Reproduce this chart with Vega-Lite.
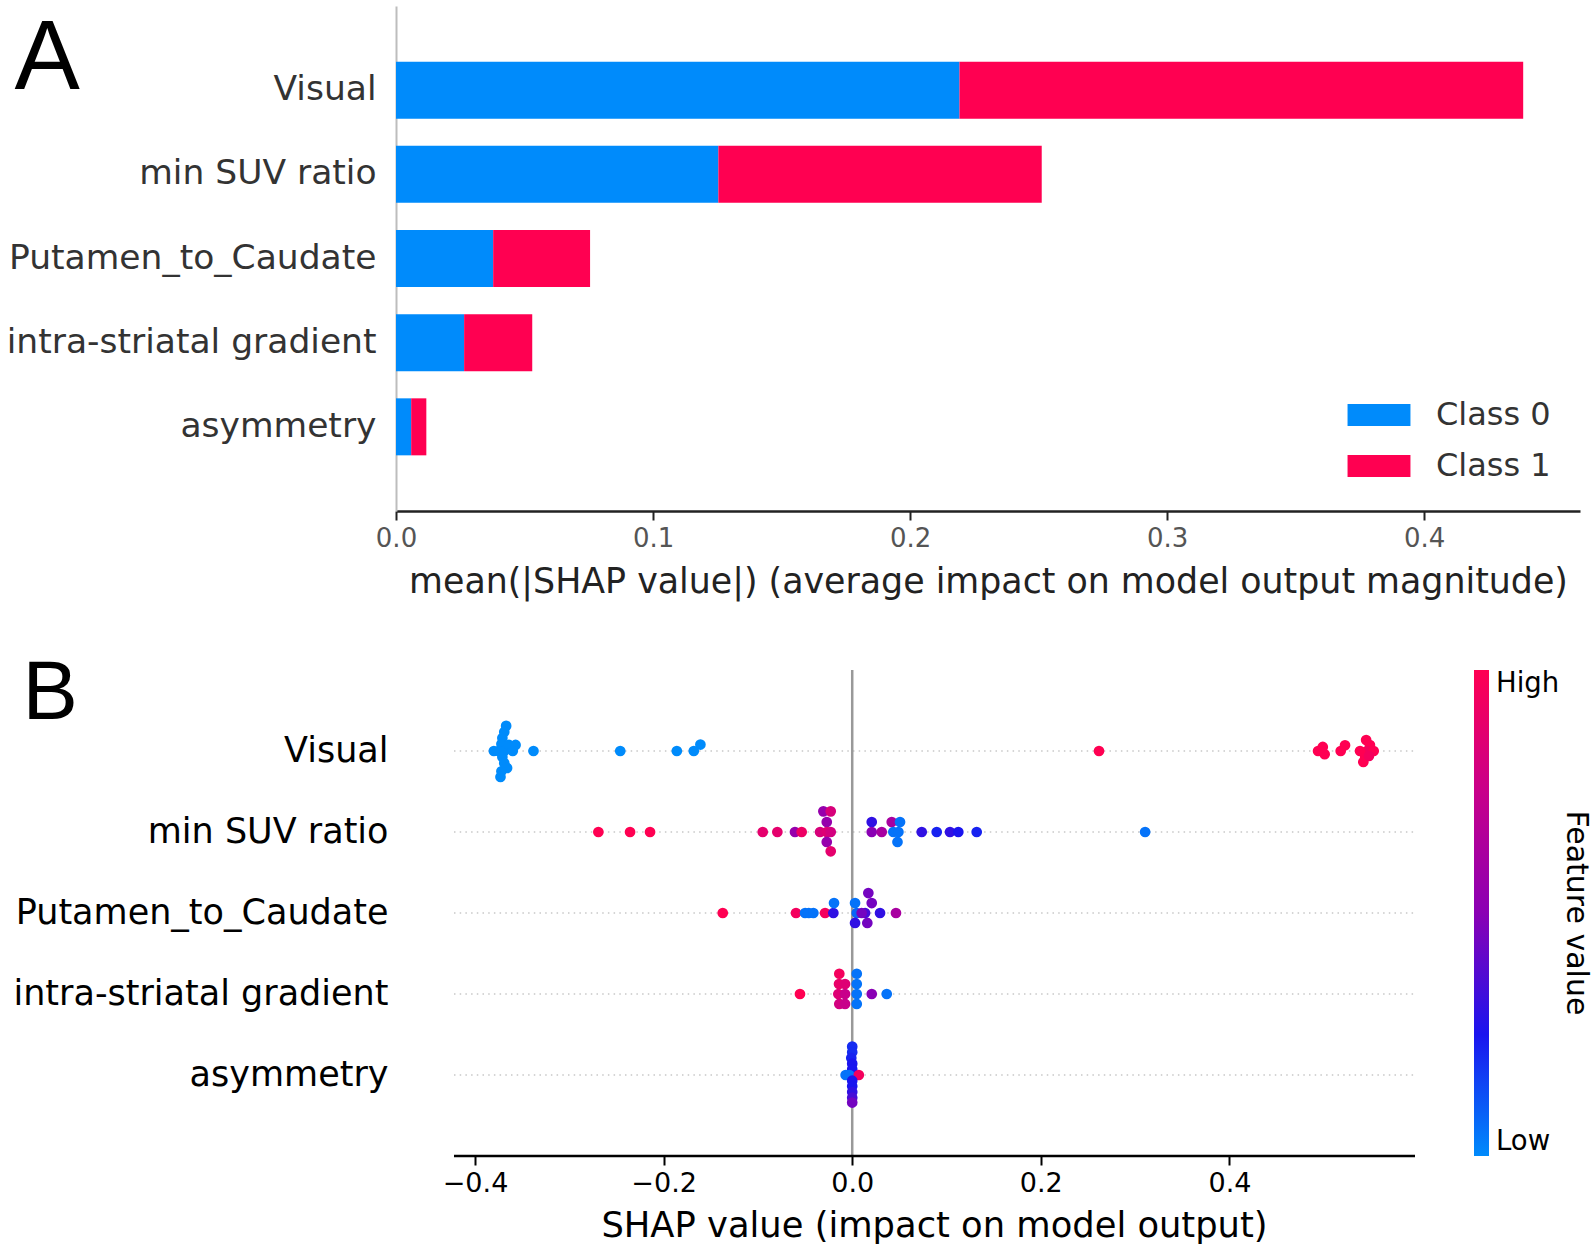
{
  "$schema": "https://vega.github.io/schema/vega-lite/v6.json",
  "background": "white",
  "padding": {"left": 6, "top": 6, "right": 0, "bottom": 0},
  "config": {"view": {"stroke": null}, "font": "DejaVu Sans", "legend": {"titleAngle": 270}},
  "datasets": {
    "bars": [
      {"feature": "Visual", "class": "Class 0", "ord": 0, "value": 0.2192},
      {"feature": "Visual", "class": "Class 1", "ord": 1, "value": 0.2193},
      {"feature": "min SUV ratio", "class": "Class 0", "ord": 0, "value": 0.1254},
      {"feature": "min SUV ratio", "class": "Class 1", "ord": 1, "value": 0.1258},
      {"feature": "Putamen_to_Caudate", "class": "Class 0", "ord": 0, "value": 0.0378},
      {"feature": "Putamen_to_Caudate", "class": "Class 1", "ord": 1, "value": 0.0377},
      {"feature": "intra-striatal gradient", "class": "Class 0", "ord": 0, "value": 0.0265},
      {"feature": "intra-striatal gradient", "class": "Class 1", "ord": 1, "value": 0.0265},
      {"feature": "asymmetry", "class": "Class 0", "ord": 0, "value": 0.0059},
      {"feature": "asymmetry", "class": "Class 1", "ord": 1, "value": 0.0059}
    ],
    "features": [
      {"feature": "Visual"}, {"feature": "min SUV ratio"}, {"feature": "Putamen_to_Caudate"},
      {"feature": "intra-striatal gradient"}, {"feature": "asymmetry"}
    ],
    "points": [
      {"feature": "Visual", "shap": -0.367, "jitter": -0.31, "fv": 0},
      {"feature": "Visual", "shap": -0.369, "jitter": -0.235, "fv": 0},
      {"feature": "Visual", "shap": -0.371, "jitter": -0.16, "fv": 0},
      {"feature": "Visual", "shap": -0.372, "jitter": -0.085, "fv": 0},
      {"feature": "Visual", "shap": -0.380, "jitter": 0, "fv": 0},
      {"feature": "Visual", "shap": -0.375, "jitter": 0, "fv": 0},
      {"feature": "Visual", "shap": -0.369, "jitter": 0, "fv": 0},
      {"feature": "Visual", "shap": -0.364, "jitter": -0.075, "fv": 0},
      {"feature": "Visual", "shap": -0.357, "jitter": -0.075, "fv": 0},
      {"feature": "Visual", "shap": -0.360, "jitter": 0, "fv": 0},
      {"feature": "Visual", "shap": -0.371, "jitter": 0.075, "fv": 0},
      {"feature": "Visual", "shap": -0.369, "jitter": 0.15, "fv": 0},
      {"feature": "Visual", "shap": -0.366, "jitter": 0.21, "fv": 0},
      {"feature": "Visual", "shap": -0.372, "jitter": 0.25, "fv": 0},
      {"feature": "Visual", "shap": -0.373, "jitter": 0.32, "fv": 0},
      {"feature": "Visual", "shap": -0.338, "jitter": 0, "fv": 0},
      {"feature": "Visual", "shap": -0.246, "jitter": 0, "fv": 0},
      {"feature": "Visual", "shap": -0.186, "jitter": 0, "fv": 0},
      {"feature": "Visual", "shap": -0.168, "jitter": 0, "fv": 0},
      {"feature": "Visual", "shap": -0.161, "jitter": -0.08, "fv": 0},
      {"feature": "Visual", "shap": 0.2617, "jitter": 0, "fv": 1},
      {"feature": "Visual", "shap": 0.494, "jitter": 0, "fv": 1},
      {"feature": "Visual", "shap": 0.499, "jitter": -0.05, "fv": 1},
      {"feature": "Visual", "shap": 0.501, "jitter": 0.04, "fv": 1},
      {"feature": "Visual", "shap": 0.5226, "jitter": -0.07, "fv": 1},
      {"feature": "Visual", "shap": 0.518, "jitter": 0, "fv": 1},
      {"feature": "Visual", "shap": 0.545, "jitter": -0.135, "fv": 1},
      {"feature": "Visual", "shap": 0.549, "jitter": -0.074, "fv": 1},
      {"feature": "Visual", "shap": 0.546, "jitter": 0, "fv": 0.95},
      {"feature": "Visual", "shap": 0.5385, "jitter": 0, "fv": 1},
      {"feature": "Visual", "shap": 0.553, "jitter": 0, "fv": 1},
      {"feature": "Visual", "shap": 0.544, "jitter": 0.074, "fv": 1},
      {"feature": "Visual", "shap": 0.542, "jitter": 0.135, "fv": 1},
      {"feature": "Visual", "shap": 0.548, "jitter": 0.06, "fv": 0.95},

      {"feature": "min SUV ratio", "shap": -0.2692, "jitter": 0, "fv": 1},
      {"feature": "min SUV ratio", "shap": -0.2356, "jitter": 0, "fv": 1},
      {"feature": "min SUV ratio", "shap": -0.2144, "jitter": 0, "fv": 1},
      {"feature": "min SUV ratio", "shap": -0.0949, "jitter": 0, "fv": 0.88},
      {"feature": "min SUV ratio", "shap": -0.0794, "jitter": 0, "fv": 0.88},
      {"feature": "min SUV ratio", "shap": -0.0607, "jitter": 0, "fv": 0.55},
      {"feature": "min SUV ratio", "shap": -0.0536, "jitter": 0, "fv": 0.92},
      {"feature": "min SUV ratio", "shap": -0.0306, "jitter": -0.255, "fv": 0.55},
      {"feature": "min SUV ratio", "shap": -0.0228, "jitter": -0.255, "fv": 0.82},
      {"feature": "min SUV ratio", "shap": -0.027, "jitter": -0.123, "fv": 0.55},
      {"feature": "min SUV ratio", "shap": -0.0341, "jitter": 0, "fv": 0.82},
      {"feature": "min SUV ratio", "shap": -0.027, "jitter": 0, "fv": 0.85},
      {"feature": "min SUV ratio", "shap": -0.0228, "jitter": 0, "fv": 0.8},
      {"feature": "min SUV ratio", "shap": -0.027, "jitter": 0.123, "fv": 0.55},
      {"feature": "min SUV ratio", "shap": -0.0228, "jitter": 0.238, "fv": 0.88},
      {"feature": "min SUV ratio", "shap": 0.0207, "jitter": -0.123, "fv": 0.3},
      {"feature": "min SUV ratio", "shap": 0.0207, "jitter": 0, "fv": 0.5},
      {"feature": "min SUV ratio", "shap": 0.0313, "jitter": 0, "fv": 0.62},
      {"feature": "min SUV ratio", "shap": 0.0419, "jitter": -0.123, "fv": 0.62},
      {"feature": "min SUV ratio", "shap": 0.0436, "jitter": 0, "fv": 0.05},
      {"feature": "min SUV ratio", "shap": 0.0507, "jitter": -0.123, "fv": 0.05},
      {"feature": "min SUV ratio", "shap": 0.0490, "jitter": 0, "fv": 0.05},
      {"feature": "min SUV ratio", "shap": 0.0480, "jitter": 0.123, "fv": 0.05},
      {"feature": "min SUV ratio", "shap": 0.0737, "jitter": 0, "fv": 0.3},
      {"feature": "min SUV ratio", "shap": 0.0896, "jitter": 0, "fv": 0.22},
      {"feature": "min SUV ratio", "shap": 0.1037, "jitter": 0, "fv": 0.3},
      {"feature": "min SUV ratio", "shap": 0.1125, "jitter": 0, "fv": 0.25},
      {"feature": "min SUV ratio", "shap": 0.132, "jitter": 0, "fv": 0.22},
      {"feature": "min SUV ratio", "shap": 0.3106, "jitter": 0, "fv": 0.05},

      {"feature": "Putamen_to_Caudate", "shap": -0.1373, "jitter": 0, "fv": 1},
      {"feature": "Putamen_to_Caudate", "shap": -0.0596, "jitter": 0, "fv": 0.95},
      {"feature": "Putamen_to_Caudate", "shap": -0.0500, "jitter": 0, "fv": 0.05},
      {"feature": "Putamen_to_Caudate", "shap": -0.0460, "jitter": 0, "fv": 0.05},
      {"feature": "Putamen_to_Caudate", "shap": -0.0412, "jitter": 0, "fv": 0.05},
      {"feature": "Putamen_to_Caudate", "shap": -0.0288, "jitter": 0, "fv": 0.95},
      {"feature": "Putamen_to_Caudate", "shap": -0.0200, "jitter": 0, "fv": 0.3},
      {"feature": "Putamen_to_Caudate", "shap": -0.0193, "jitter": -0.123, "fv": 0.05},
      {"feature": "Putamen_to_Caudate", "shap": 0.0030, "jitter": -0.123, "fv": 0.05},
      {"feature": "Putamen_to_Caudate", "shap": 0.0048, "jitter": 0, "fv": 0.08},
      {"feature": "Putamen_to_Caudate", "shap": 0.0171, "jitter": -0.246, "fv": 0.45},
      {"feature": "Putamen_to_Caudate", "shap": 0.0136, "jitter": 0, "fv": 0.35},
      {"feature": "Putamen_to_Caudate", "shap": 0.0207, "jitter": -0.123, "fv": 0.45},
      {"feature": "Putamen_to_Caudate", "shap": 0.0100, "jitter": 0, "fv": 0.45},
      {"feature": "Putamen_to_Caudate", "shap": 0.0295, "jitter": 0, "fv": 0.3},
      {"feature": "Putamen_to_Caudate", "shap": 0.0030, "jitter": 0.123, "fv": 0.3},
      {"feature": "Putamen_to_Caudate", "shap": 0.0160, "jitter": 0.123, "fv": 0.45},
      {"feature": "Putamen_to_Caudate", "shap": 0.0464, "jitter": 0, "fv": 0.62},

      {"feature": "intra-striatal gradient", "shap": -0.0554, "jitter": 0, "fv": 1},
      {"feature": "intra-striatal gradient", "shap": -0.0137, "jitter": -0.25, "fv": 0.95},
      {"feature": "intra-striatal gradient", "shap": -0.0140, "jitter": -0.123, "fv": 0.9},
      {"feature": "intra-striatal gradient", "shap": -0.0076, "jitter": -0.123, "fv": 0.85},
      {"feature": "intra-striatal gradient", "shap": -0.0147, "jitter": 0, "fv": 0.85},
      {"feature": "intra-striatal gradient", "shap": -0.0076, "jitter": 0, "fv": 0.75},
      {"feature": "intra-striatal gradient", "shap": -0.0137, "jitter": 0.123, "fv": 0.8},
      {"feature": "intra-striatal gradient", "shap": -0.0076, "jitter": 0.123, "fv": 0.75},
      {"feature": "intra-striatal gradient", "shap": 0.0048, "jitter": -0.25, "fv": 0.05},
      {"feature": "intra-striatal gradient", "shap": 0.0048, "jitter": -0.123, "fv": 0.05},
      {"feature": "intra-striatal gradient", "shap": 0.0048, "jitter": 0, "fv": 0.05},
      {"feature": "intra-striatal gradient", "shap": 0.0048, "jitter": 0.123, "fv": 0.05},
      {"feature": "intra-striatal gradient", "shap": 0.0207, "jitter": 0, "fv": 0.5},
      {"feature": "intra-striatal gradient", "shap": 0.0366, "jitter": 0, "fv": 0.05},

      {"feature": "asymmetry", "shap": 0.0, "jitter": -0.35, "fv": 0.2},
      {"feature": "asymmetry", "shap": 0.0, "jitter": -0.28, "fv": 0.2},
      {"feature": "asymmetry", "shap": -0.001, "jitter": -0.21, "fv": 0.22},
      {"feature": "asymmetry", "shap": 0.0, "jitter": -0.14, "fv": 0.25},
      {"feature": "asymmetry", "shap": 0.0, "jitter": -0.07, "fv": 0.25},
      {"feature": "asymmetry", "shap": -0.007, "jitter": 0, "fv": 0.05},
      {"feature": "asymmetry", "shap": -0.003, "jitter": 0, "fv": 0.05},
      {"feature": "asymmetry", "shap": 0.007, "jitter": 0, "fv": 0.95},
      {"feature": "asymmetry", "shap": 0.0, "jitter": 0.07, "fv": 0.25},
      {"feature": "asymmetry", "shap": 0.0, "jitter": 0.14, "fv": 0.25},
      {"feature": "asymmetry", "shap": 0.0, "jitter": 0.21, "fv": 0.3},
      {"feature": "asymmetry", "shap": 0.0, "jitter": 0.28, "fv": 0.35},
      {"feature": "asymmetry", "shap": 0.0, "jitter": 0.34, "fv": 0.45}
    ]
  },
  "vconcat": [
    {
      "width": 1184,
      "height": 505,
      "data": {"name": "bars"},
      "mark": {"type": "bar", "size": 57},
      "encoding": {
        "y": {
          "field": "feature", "type": "nominal",
          "sort": ["Visual", "min SUV ratio", "Putamen_to_Caudate", "intra-striatal gradient", "asymmetry"],
          "scale": {"paddingInner": 0, "paddingOuter": 0.5},
          "axis": {
            "domain": true, "domainColor": "#bdbdbd", "domainWidth": 2,
            "ticks": false, "labelPadding": 20, "labelFontSize": 34.5, "labelColor": "#333",
            "labelFont": "DejaVu Sans", "labelLimit": 0,
            "title": "A", "titleFont": "Liberation Sans", "titleFontSize": 98, "titleFontWeight": "normal",
            "titleColor": "#000", "titleAngle": 0, "titleAlign": "left", "titleBaseline": "alphabetic",
            "titleX": -382, "titleY": 82
          }
        },
        "x": {
          "field": "value", "type": "quantitative", "stack": "zero",
          "scale": {"domain": [0, 0.4606], "nice": false, "zero": true},
          "axis": {
            "values": [0, 0.1, 0.2, 0.3, 0.4], "format": ".1f", "grid": false, "labelFlush": false,
            "domainColor": "#222", "domainWidth": 2.5, "tickColor": "#222", "tickWidth": 2, "tickSize": 9,
            "labelFontSize": 26, "labelColor": "#555", "labelPadding": 5, "labelFont": "DejaVu Sans",
            "title": "mean(|SHAP value|) (average impact on model output magnitude)",
            "titleFontSize": 34.8, "titleFontWeight": "normal", "titleColor": "#222", "titlePadding": 14,
            "titleFont": "DejaVu Sans", "titleLimit": 0
          }
        },
        "color": {
          "field": "class", "type": "nominal",
          "scale": {"domain": ["Class 0", "Class 1"], "range": ["#008bfb", "#ff0051"]},
          "legend": {
            "orient": "bottom-right", "offset": 29, "title": null, "padding": 0,
            "symbolType": "M-2.86,-1L2.86,-1L2.86,1L-2.86,1Z", "symbolSize": 484,
            "symbolStrokeWidth": 0, "symbolOpacity": 1,
            "labelFontSize": 32, "labelFont": "DejaVu Sans", "labelColor": "#333",
            "labelOffset": 41, "rowPadding": 19, "labelLimit": 0
          }
        },
        "order": {"field": "ord", "type": "quantitative"}
      }
    },
    {
      "width": 1019,
      "height": 486,
      "layer": [
        {
          "data": {"name": "features"},
          "mark": {"type": "rule", "color": "#c8c8c8", "strokeWidth": 1.5, "strokeDash": [1.5, 4.2]},
          "encoding": {
            "x": {"datum": -0.4223},
            "x2": {"datum": 0.5968},
            "y": {"field": "feature", "type": "nominal", "sort": ["Visual", "min SUV ratio", "Putamen_to_Caudate", "intra-striatal gradient", "asymmetry"]}
          }
        },
        {
          "data": {"values": [{"z": 0}]},
          "mark": {"type": "rule", "color": "#999999", "strokeWidth": 2.5},
          "encoding": {"x": {"field": "z", "type": "quantitative"}}
        },
        {
          "data": {"values": [{"lo": -0.4223, "hi": 0.5968}]},
          "mark": {"type": "rule", "color": "#000000", "strokeWidth": 2.5},
          "encoding": {
            "x": {"field": "lo", "type": "quantitative"},
            "x2": {"field": "hi"},
            "y": {"value": "height"}
          }
        },
        {
          "data": {"name": "points"},
          "mark": {"type": "circle", "size": 115, "opacity": 1},
          "encoding": {
            "y": {"field": "feature", "type": "nominal", "sort": ["Visual", "min SUV ratio", "Putamen_to_Caudate", "intra-striatal gradient", "asymmetry"]},
            "yOffset": {"field": "jitter", "type": "quantitative", "scale": {"domain": [-0.5, 0.5], "range": [0, 81]}},
            "x": {"field": "shap", "type": "quantitative"},
            "color": {
              "field": "fv", "type": "quantitative",
              "scale": {"domain": [0, 0.25, 0.5, 0.75, 1], "range": ["#008bfb", "#1a14ef", "#8a00b4", "#c8008a", "#ff0052"], "interpolate": "rgb"},
              "legend": {
                "orient": "right", "offset": 59, "direction": "vertical", "padding": 0,
                "gradientLength": 486, "gradientThickness": 15, "gradientStrokeWidth": 0,
                "values": [0, 1], "labelExpr": "datum.value == 1 ? 'High' : 'Low'",
                "labelFontSize": 27.5, "labelFont": "DejaVu Sans", "labelColor": "#000", "labelOffset": 7,
                "title": "Feature value", "titleOrient": "right", "titleAnchor": "middle",
                "titleLimit": 0,
                "titleFontSize": 30, "titleFontWeight": "normal", "titleFont": "DejaVu Sans", "titleColor": "#000", "titlePadding": 2,
                "encode": {"title": {"angle": {"value": 270}}}
              }
            }
          }
        }
      ],
      "encoding": {
        "x": {
          "scale": {"domain": [-0.4838, 0.5968], "nice": false, "zero": false},
          "axis": {
            "values": [-0.4, -0.2, 0, 0.2, 0.4], "format": ".1f", "grid": false, "labelFlush": false,
            "domain": false, "tickColor": "#000", "tickWidth": 2, "tickSize": 9,
            "labelFontSize": 27, "labelColor": "#000", "labelPadding": 5, "labelFont": "DejaVu Sans",
            "title": "SHAP value (impact on model output)",
            "titleFontSize": 35.3, "titleFontWeight": "normal", "titleColor": "#000", "titlePadding": 12,
            "titleFont": "DejaVu Sans", "titleLimit": 0, "titleX": 538
          }
        },
        "y": {
          "scale": {"paddingInner": 0, "paddingOuter": 0.5},
          "axis": {
            "domain": false, "ticks": false, "labelPadding": 8, "labelFontSize": 35, "labelColor": "#000",
            "labelFont": "DejaVu Sans", "labelLimit": 0,
            "title": "B", "titleFont": "Liberation Sans", "titleFontSize": 83, "titleFontWeight": "normal",
            "titleColor": "#000", "titleAngle": 0, "titleAlign": "left", "titleBaseline": "alphabetic",
            "titleX": -374, "titleY": 48
          }
        }
      }
    }
  ],
  "center": false,
  "spacing": 53,
  "resolve": {"scale": {"color": "independent"}, "legend": {"color": "independent"}}
}
